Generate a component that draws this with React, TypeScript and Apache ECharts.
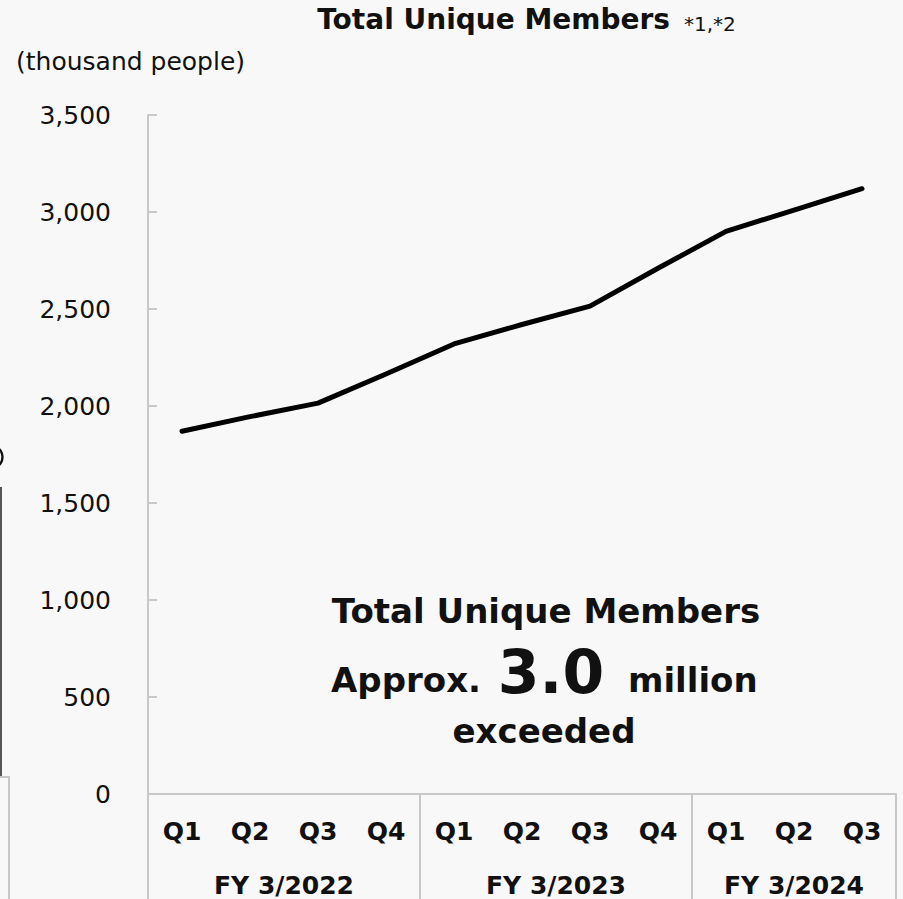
import React, { useEffect, useRef } from "react";
import * as echarts from "echarts";

const quarters = ["Q1", "Q2", "Q3", "Q4", "Q1", "Q2", "Q3", "Q4", "Q1", "Q2", "Q3"];
const members = [1870, 1945, 2015, 2165, 2320, 2420, 2515, 2710, 2900, 3010, 3120];
const fiscalYears = ["FY 3/2022", "FY 3/2023", "FY 3/2024"];
const fyStart = [0, 4, 8];
const fyEnd = [4, 8, 11];
const yMin = 0;
const yMax = 3500;
const yStep = 500;

const FONT = "'DejaVu Sans', Verdana, sans-serif";
const BG = "#f8f8f8";
const GRID_GRAY = "#c8c8c8";
const INK = "#111111";

export default function App() {
  const ref = useRef<HTMLDivElement>(null);

  useEffect(() => {
    if (!ref.current) return;
    const chart = echarts.init(ref.current, null, { renderer: "svg" });
    chart.setOption({
      animation: false,
      backgroundColor: BG,
      textStyle: { fontFamily: FONT },
      grid: { left: 148, right: 7, top: 115, bottom: 105, containLabel: false },
      xAxis: [
        {
          type: "category",
          data: quarters,
          boundaryGap: true,
          position: "bottom",
          axisLine: { show: true, lineStyle: { color: GRID_GRAY, width: 2 } },
          axisTick: { show: false },
          axisLabel: {
            interval: 0,
            fontFamily: FONT,
            fontWeight: "bold",
            fontSize: 25,
            color: INK,
            margin: 22,
            lineHeight: 30,
          },
          splitLine: { show: false },
        },
        {
          type: "value",
          min: 0,
          max: quarters.length,
          interval: 4,
          position: "bottom",
          axisLine: { show: false },
          axisTick: { show: true, inside: false, length: 105, lineStyle: { color: GRID_GRAY, width: 2 } },
          axisLabel: { show: false },
          splitLine: { show: false },
        },
      ],
      yAxis: {
        type: "value",
        min: yMin,
        max: yMax,
        interval: yStep,
        axisLine: { show: true, lineStyle: { color: GRID_GRAY, width: 2 } },
        axisTick: { show: true, inside: true, length: 9, lineStyle: { color: GRID_GRAY, width: 2 } },
        axisLabel: {
          fontFamily: FONT,
          fontSize: 25,
          color: INK,
          margin: 37,
          formatter: (v: number) => v.toLocaleString("en-US"),
        },
        splitLine: { show: false },
      },
      series: [
        {
          type: "line",
          data: members,
          xAxisIndex: 0,
          yAxisIndex: 0,
          symbol: "none",
          showSymbol: false,
          lineStyle: { color: "#000000", width: 5, cap: "round", join: "round" },
        },
      ],
    });

    const fyTexts = fiscalYears.map((fy, i) => {
      const cx = chart.convertToPixel({ xAxisIndex: 1 }, (fyStart[i] + fyEnd[i]) / 2) as number;
      return {
        type: "text",
        x: cx,
        y: 885,
        style: {
          text: fy,
          fontFamily: FONT,
          fontWeight: "bold",
          fontSize: 25,
          fill: INK,
          align: "center",
          verticalAlign: "middle",
        },
      };
    });

    chart.setOption({
      graphic: [
        {
          type: "text",
          x: 670,
          y: 19,
          style: {
            text: "Total Unique Members",
            fontFamily: FONT,
            fontWeight: "bold",
            fontSize: 28,
            fill: INK,
            align: "right",
            verticalAlign: "middle",
          },
        },
        {
          type: "text",
          x: 684,
          y: 24,
          style: {
            text: "*1,*2",
            fontFamily: FONT,
            fontSize: 20,
            fill: INK,
            align: "left",
            verticalAlign: "middle",
          },
        },
        {
          type: "text",
          x: 16,
          y: 61,
          style: {
            text: "(thousand people)",
            fontFamily: FONT,
            fontSize: 25,
            fill: INK,
            align: "left",
            verticalAlign: "middle",
          },
        },
        {
          type: "text",
          x: 546,
          y: 611,
          style: {
            text: "Total Unique Members",
            fontFamily: FONT,
            fontWeight: "bold",
            fontSize: 34,
            fill: INK,
            align: "center",
            verticalAlign: "middle",
          },
        },
        {
          type: "text",
          x: 481,
          y: 680,
          style: {
            text: "Approx.",
            fontFamily: FONT,
            fontWeight: "bold",
            fontSize: 34,
            fill: INK,
            align: "right",
            verticalAlign: "middle",
          },
        },
        {
          type: "text",
          x: 551,
          y: 672,
          style: {
            text: "3.0",
            fontFamily: FONT,
            fontWeight: "bold",
            fontSize: 60,
            fill: INK,
            align: "center",
            verticalAlign: "middle",
          },
        },
        {
          type: "text",
          x: 628,
          y: 680,
          style: {
            text: "million",
            fontFamily: FONT,
            fontWeight: "bold",
            fontSize: 34,
            fill: INK,
            align: "left",
            verticalAlign: "middle",
          },
        },
        {
          type: "text",
          x: 544,
          y: 731,
          style: {
            text: "exceeded",
            fontFamily: FONT,
            fontWeight: "bold",
            fontSize: 34,
            fill: INK,
            align: "center",
            verticalAlign: "middle",
          },
        },
        ...fyTexts,
        {
          type: "ellipse",
          shape: { cx: -4, cy: 457, rx: 6.5, ry: 9 },
          style: { stroke: INK, lineWidth: 2.4, fill: null },
        },
        {
          type: "line",
          shape: { x1: 1, y1: 487, x2: 1, y2: 777 },
          style: { stroke: "#555555", lineWidth: 2 },
        },
        {
          type: "polyline",
          shape: { points: [[0, 777], [9, 777], [9, 899]] },
          style: { stroke: GRID_GRAY, lineWidth: 2, fill: null },
        },
      ],
    });

    return () => chart.dispose();
  }, []);

  return (
    <div
      ref={ref}
      style={{ position: "absolute", left: 0, top: 0, width: 903, height: 899, background: BG }}
    />
  );
}
